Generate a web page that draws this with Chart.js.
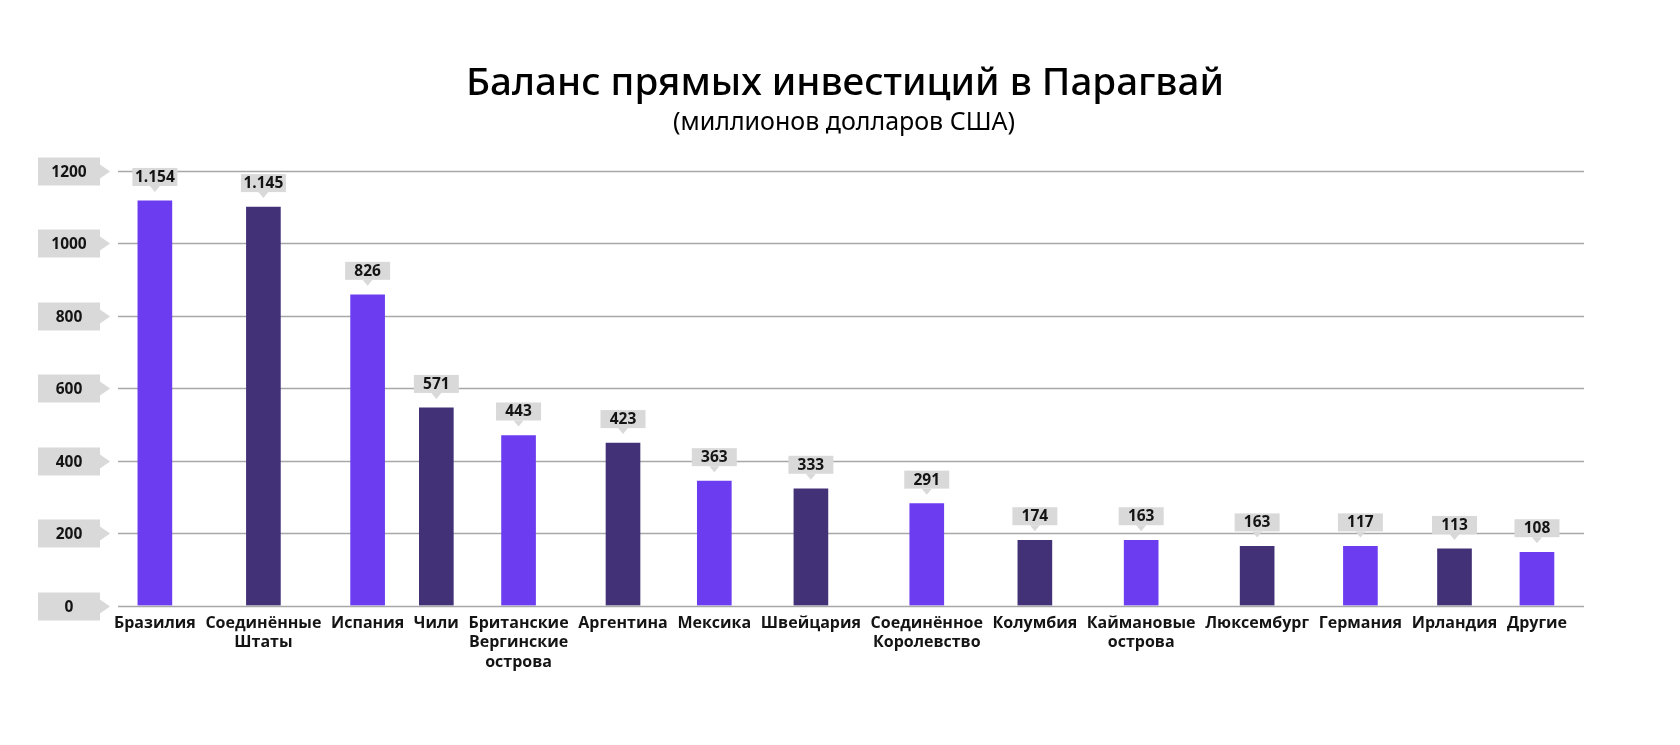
<!DOCTYPE html>
<html lang="ru">
<head>
<meta charset="utf-8">
<title>Баланс прямых инвестиций в Парагвай</title>
<script src="https://cdn.jsdelivr.net/npm/chart.js@4.4.1/dist/chart.umd.min.js"></script>
<style>
  html, body { margin: 0; padding: 0; background: #fff; }
  #wrap { width: 1680px; height: 745px; position: relative; }
</style>
</head>
<body>
<div id="wrap"><canvas id="fdiChart"></canvas></div>
<script>
// ===== DATA =====
const countries = [
  "Бразилия", ["Соединённые", "Штаты"], "Испания", "Чили",
  ["Британские", "Вергинские", "острова"], "Аргентина", "Мексика", "Швейцария",
  ["Соединённое", "Королевство"], "Колумбия", ["Каймановые", "острова"],
  "Люксембург", "Германия", "Ирландия", "Другие"
];
// bar heights as they are drawn in the picture
const barHeights = [1116, 1099, 857, 545, 469, 448, 343, 322, 281, 180, 180, 163, 163, 156, 147];
// numbers printed in the callouts above the bars
const valueLabels = ["1.154", "1.145", "826", "571", "443", "423", "363", "333", "291", "174", "163", "163", "117", "113", "108"];
const yTicks = [0, 200, 400, 600, 800, 1000, 1200];

const titleText = "Баланс прямых инвестиций в Парагвай";
const subtitleText = "(миллионов долларов США)";

// ===== STYLE =====
const LIGHT = "#6b3cf0";
const DARK = "#433177";
const BOX = "#d9d9d9";
const INK = "#141414";
const NUM_FONT = "700 15.5px 'Open Sans'";
const LABEL_FONT = { family: "'Open Sans'", weight: "700", size: 16, lineHeight: 1.22 };

// ===== CATEGORY LAYOUT =====
// every slot is as wide as its label plus an even gap (like the original layout)
const measure = document.createElement("canvas").getContext("2d");
measure.font = `${LABEL_FONT.weight} ${LABEL_FONT.size}px ${LABEL_FONT.family}`;
const labelWidths = countries.map(c => Math.max(...[].concat(c).map(s => measure.measureText(s).width)));
const LABEL_SPAN = 1453;      // first label's left edge to last label's right edge
const PAD_LEFT = 91, PAD_RIGHT = 87, LABEL_START = 114;
const gap = (LABEL_SPAN - labelWidths.reduce((a, b) => a + b, 0)) / (countries.length - 1);
const slotX = [];
labelWidths.reduce((left, w) => { slotX.push(left + w / 2); return left + w + gap; }, 0);
const xMin = PAD_LEFT - LABEL_START;
const xMax = xMin + (1680 - PAD_LEFT - PAD_RIGHT);

// ===== DECORATION PLUGIN (title, tick boxes, grid, callouts) =====
const decor = {
  id: "decor",
  beforeDraw(chart) {
    const ctx = chart.ctx;
    ctx.save();
    ctx.fillStyle = "#000";
    ctx.textAlign = "center";
    ctx.textBaseline = "alphabetic";
    ctx.font = "500 38.6px 'Noto Sans'";
    ctx.fillText(titleText, 845, 95);
    ctx.font = "400 25px 'Noto Sans'";
    ctx.fillText(subtitleText, 844, 130);
    ctx.restore();
  },
  beforeDatasetsDraw(chart) {
    const { ctx, chartArea, scales: { y } } = chart;
    ctx.save();
    y.ticks.forEach(t => {
      const py = Math.round(y.getPixelForValue(t.value)) + 0.5;
      // grid line
      ctx.strokeStyle = "#a8a8a8";
      ctx.lineWidth = 1.3;
      ctx.beginPath();
      ctx.moveTo(118, py);
      ctx.lineTo(chartArea.right - 9, py);
      ctx.stroke();
      // tick box with arrow
      ctx.fillStyle = BOX;
      ctx.fillRect(38, py - 14, 62, 28);
      ctx.beginPath();
      ctx.moveTo(100, py - 7);
      ctx.lineTo(110, py);
      ctx.lineTo(100, py + 7);
      ctx.closePath();
      ctx.fill();
      ctx.fillStyle = INK;
      ctx.font = NUM_FONT;
      ctx.textAlign = "center";
      ctx.textBaseline = "middle";
      ctx.fillText(String(t.value), 69, py + 1);
    });
    ctx.restore();
  },
  afterDatasetsDraw(chart) {
    const ctx = chart.ctx;
    const meta = chart.getDatasetMeta(0);
    ctx.save();
    meta.data.forEach((bar, i) => {
      const cx = bar.x;
      const bottom = bar.y - 15;
      ctx.fillStyle = BOX;
      ctx.fillRect(cx - 22.5, bottom - 18, 45, 18);
      ctx.beginPath();
      ctx.moveTo(cx - 5, bottom);
      ctx.lineTo(cx, bottom + 6);
      ctx.lineTo(cx + 5, bottom);
      ctx.closePath();
      ctx.fill();
      ctx.fillStyle = INK;
      ctx.font = NUM_FONT;
      ctx.textAlign = "center";
      ctx.textBaseline = "middle";
      ctx.fillText(valueLabels[i], cx, bottom - 8.5);
    });
    ctx.restore();
  }
};

// ===== CHART =====
new Chart(document.getElementById("fdiChart"), {
  type: "bar",
  data: {
    datasets: [{
      data: barHeights.map((v, i) => ({ x: slotX[i], y: v })),
      backgroundColor: barHeights.map((_, i) => (i % 2 ? DARK : LIGHT)),
      borderWidth: 0,
      barThickness: 34
    }]
  },
  options: {
    responsive: true,
    maintainAspectRatio: false,
    animation: false,
    layout: { padding: { top: 170.5, left: PAD_LEFT, right: PAD_RIGHT, bottom: 0 } },
    plugins: {
      legend: { display: false },
      tooltip: { enabled: false },
      title: { display: false }
    },
    scales: {
      x: {
        type: "linear",
        offset: false,
        min: xMin,
        max: xMax,
        grid: { display: false, drawTicks: false },
        border: { display: false },
        afterBuildTicks(scale) { scale.ticks = slotX.map(v => ({ value: v })); },
        ticks: {
          autoSkip: false,
          maxRotation: 0,
          padding: 8,
          color: INK,
          font: LABEL_FONT,
          callback: (value, index) => countries[index]
        },
        afterFit(scale) { scale.height = 139.5; }
      },
      y: {
        display: false,
        min: 0,
        max: 1200,
        afterBuildTicks(scale) { scale.ticks = yTicks.map(v => ({ value: v })); }
      }
    }
  },
  plugins: [decor]
});
</script>
</body>
</html>
